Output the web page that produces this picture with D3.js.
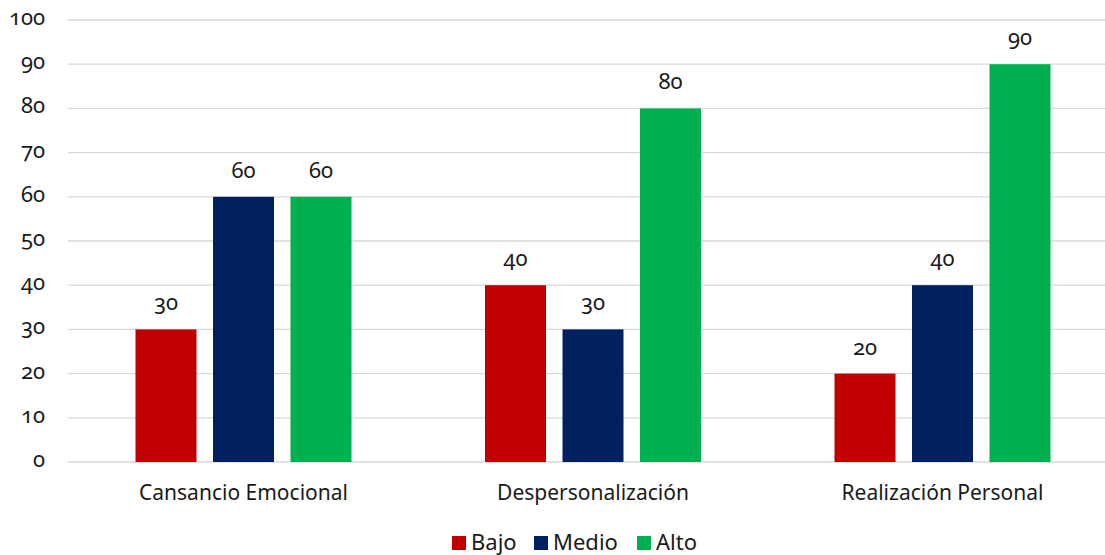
<!DOCTYPE html>
<html>
<head>
<meta charset="utf-8">
<script src="https://d3js.org/d3.v7.min.js"></script>
<style>
  body { margin: 0; background: #fff; }
  text { font-family: "Noto Sans", sans-serif; font-variant-numeric: oldstyle-nums; font-feature-settings: "onum"; }
</style>
</head>
<body>
<div id="chart"></div>
<script>
const categories = ["Cansancio Emocional", "Despersonalización", "Realización Personal"];
const series = ["Bajo", "Medio", "Alto"];
const bajo = [30, 40, 20];
const medio = [60, 30, 40];
const alto = [60, 80, 90];
const yTicks = [0, 10, 20, 30, 40, 50, 60, 70, 80, 90, 100];
const colors = ["#c00000", "#002060", "#00b050"];

const values = [bajo, medio, alto];
const W = 1105, H = 555;

const svg = d3.select("#chart").append("svg")
  .attr("width", W).attr("height", H);

const x0 = d3.scaleBand().domain(categories).range([68.75, 1117.25]);
const x1 = d3.scaleBand().domain(series)
  .range([66.75, x0.bandwidth() - 66.75]).paddingInner(0.213);
const y = d3.scaleLinear().domain([0, 100]).range([462, 20]);

// gridlines
svg.append("g").selectAll("line").data(yTicks).enter().append("line")
  .attr("x1", 68).attr("x2", 1105)
  .attr("y1", d => y(d)).attr("y2", d => y(d))
  .attr("stroke", "#d9d9d9").attr("stroke-width", 1.3);

// y labels
svg.append("g").selectAll("text").data(yTicks).enter().append("text")
  .attr("x", 45).attr("y", d => y(d) + 5)
  .attr("text-anchor", "end")
  .style("font-size", "22px").attr("fill", "#1a1a1a")
  .text(d => d);

// bars
const groups = svg.append("g").selectAll("g").data(categories).enter().append("g")
  .attr("transform", d => "translate(" + x0(d) + ",0)");

groups.selectAll("rect")
  .data((d, i) => series.map((s, j) => ({ s, v: values[j][i], c: colors[j] })))
  .enter().append("rect")
  .attr("x", d => x1(d.s)).attr("width", x1.bandwidth())
  .attr("y", d => y(d.v)).attr("height", d => y(0) - y(d.v))
  .attr("fill", d => d.c);

groups.selectAll("text.lbl")
  .data((d, i) => series.map((s, j) => ({ s, v: values[j][i] })))
  .enter().append("text").attr("class", "lbl")
  .attr("x", d => x1(d.s) + x1.bandwidth() / 2)
  .attr("y", d => y(d.v) - 19)
  .attr("text-anchor", "middle")
  .style("font-size", "22px").attr("fill", "#1a1a1a")
  .text(d => d.v);

// category labels
svg.append("g").selectAll("text").data(categories).enter().append("text")
  .attr("x", d => x0(d) + x0.bandwidth() / 2)
  .attr("y", 500)
  .attr("text-anchor", "middle")
  .style("font-size", "21px").attr("fill", "#1a1a1a")
  .text(d => d);

// legend
const legX = [452, 534, 637];
const leg = svg.append("g").selectAll("g").data(series).enter().append("g")
  .attr("transform", (d, i) => "translate(" + legX[i] + ",536)");
leg.append("rect").attr("width", 14).attr("height", 14)
  .attr("fill", (d, i) => colors[i]);
leg.append("text").attr("x", 19).attr("y", 14)
  .style("font-size", "22px").attr("fill", "#1a1a1a")
  .text(d => d);
</script>
</body>
</html>
